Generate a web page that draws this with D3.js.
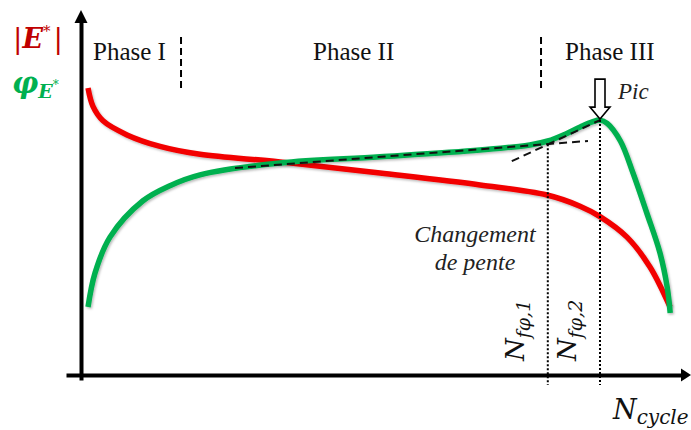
<!DOCTYPE html>
<html>
<head>
<meta charset="utf-8">
<script src="https://cdn.jsdelivr.net/npm/d3@7"></script>
<style>
  html, body { margin: 0; padding: 0; background: #fff; }
  svg { display: block; }
</style>
</head>
<body>
<script>
// ---------- DATA (normalised cycles 0-100, normalised value 0-100) ----------
const modulusCycles = [1.17, 2.0, 3.67, 7.67, 13.17, 19.83, 33.17, 49.83, 66.5, 77.67, 83.17, 86.5, 91.0, 94.83, 98.17];
const modulusValues = [79.7, 74.6, 70.6, 66.7, 63.5, 61.3, 59.2, 56.1, 52.8, 50.0, 46.9, 44.0, 38.3, 30.0, 18.9];

const phaseAngleCycles = [1.17, 2.33, 4.83, 10.33, 14.83, 19.83, 33.17, 49.83, 66.5, 74.8, 77.8, 80.7, 83.2, 85.2, 86.5, 87.7, 89.9, 92.0, 94.3, 96.5, 97.7, 98.2];
const phaseAngleValues = [18.9, 28.3, 38.3, 48.4, 52.6, 55.6, 58.9, 60.6, 62.5, 63.9, 65.0, 66.9, 68.9, 70.3, 70.8, 69.9, 65.0, 56.1, 45.0, 33.9, 24.4, 17.2];

const tangentPhaseII = [[25.67, 57.5], [84.5, 65.0]];
const tangentPhaseIII = [[71.8, 59.4], [86.5, 70.8]];

const phaseBoundaries = [16.67, 76.67];
const phaseLabels = ["Phase I", "Phase II", "Phase III"];
const criticalCycles = [77.8, 86.5];          // N_fφ,1 , N_fφ,2
const criticalValues = [64.1, 70.8];
const criticalSubscripts = ["fφ,1", "fφ,2"];

// ---------- LAYOUT ----------
const W = 691, H = 430;
const svg = d3.select("body").append("svg").attr("width", W).attr("height", H);
svg.append("rect").attr("width", W).attr("height", H).attr("fill", "#fff");

const x = d3.scaleLinear().domain([0, 100]).range([81, 681]);
const y = d3.scaleLinear().domain([0, 100]).range([375, 15]);

const RED = "#f20000", GREEN = "#00b050", DARKRED = "#c00000";
const serif = "'Liberation Serif', 'Times New Roman', serif";
const math = "'DejaVu Serif', serif";

const defs = svg.append("defs");
const f = defs.append("filter").attr("id", "shadow").attr("x", "-10%").attr("y", "-10%").attr("width", "120%").attr("height", "120%");
f.append("feDropShadow").attr("dx", 1.2).attr("dy", 1.5).attr("stdDeviation", 1).attr("flood-color", "#000").attr("flood-opacity", 0.28);

// ---------- AXES ----------
const xAxisScale = d3.scaleLinear().domain([x.invert(66), x.invert(684)]).range([66, 684]);
const yAxisScale = d3.scaleLinear().domain([y.invert(380), y.invert(20)]).range([380, 20]);

const gx = svg.append("g").attr("transform", `translate(0,${y(0)})`)
  .call(d3.axisBottom(xAxisScale).tickValues([]).tickSizeOuter(0));
gx.select(".domain").attr("stroke", "#000").attr("stroke-width", 4);

const gy = svg.append("g").attr("transform", `translate(${x(0)},0)`)
  .call(d3.axisLeft(yAxisScale).tickValues([]).tickSizeOuter(0));
gy.select(".domain").attr("stroke", "#000").attr("stroke-width", 4);

// arrow heads
svg.append("path")
  .attr("d", `M${xAxisScale.range()[1] - 3},${y(0) - 6.5} L${xAxisScale.range()[1] + 7},${y(0)} L${xAxisScale.range()[1] - 3},${y(0) + 6.5} Z`)
  .attr("fill", "#000");
svg.append("path")
  .attr("d", `M${x(0) - 6.5},${yAxisScale.range()[1] + 3} L${x(0)},${yAxisScale.range()[1] - 10} L${x(0) + 6.5},${yAxisScale.range()[1] + 3} Z`)
  .attr("fill", "#000");

// ---------- PHASE SEPARATORS ----------
svg.selectAll(".sep").data(phaseBoundaries).enter().append("line")
  .attr("x1", d => x(d)).attr("x2", d => x(d))
  .attr("y1", 37).attr("y2", 90)
  .attr("stroke", "#000").attr("stroke-width", 2).attr("stroke-dasharray", "7,4");

const phaseLabelX = [93, 313, 565];
svg.selectAll(".phase").data(phaseLabels).enter().append("text")
  .attr("x", (d, i) => phaseLabelX[i]).attr("y", 60)
  .attr("font-family", serif).attr("font-size", 25).attr("fill", "#111")
  .text(d => d);

// ---------- CURVES ----------
const line = d3.line().x(d => x(d[0])).y(d => y(d[1])).curve(d3.curveCatmullRom.alpha(0.5));
const modulusData = modulusCycles.map((c, i) => [c, modulusValues[i]]);
const phaseData = phaseAngleCycles.map((c, i) => [c, phaseAngleValues[i]]);

svg.append("path").datum(modulusData).attr("d", line)
  .attr("fill", "none").attr("stroke", RED).attr("stroke-width", 5.5).attr("filter", "url(#shadow)");
svg.append("path").datum(phaseData).attr("d", line)
  .attr("fill", "none").attr("stroke", GREEN).attr("stroke-width", 5.5).attr("filter", "url(#shadow)");

// tangent lines
const straight = d3.line().x(d => x(d[0])).y(d => y(d[1]));
[tangentPhaseII, tangentPhaseIII].forEach(t => {
  svg.append("path").datum(t).attr("d", straight)
    .attr("fill", "none").attr("stroke", "#111").attr("stroke-width", 2).attr("stroke-dasharray", "8,5");
});

// dotted vertical lines
svg.selectAll(".crit").data(criticalCycles).enter().append("line")
  .attr("x1", d => x(d)).attr("x2", d => x(d))
  .attr("y1", (d, i) => y(criticalValues[i])).attr("y2", y(0) + 10)
  .attr("stroke", "#000").attr("stroke-width", 2).attr("stroke-dasharray", "2,2");

// rotated N labels
criticalCycles.forEach((c, i) => {
  const t = svg.append("text")
    .attr("transform", `translate(${x(c) - 24},361) rotate(-90)`)
    .attr("font-family", math).attr("font-style", "italic").attr("fill", "#111");
  t.append("tspan").attr("font-size", 26).text("N");
  t.append("tspan").attr("font-size", 19).attr("dy", 6).text(criticalSubscripts[i]);
});

// hollow arrow pointing at the peak
const px = x(criticalCycles[1]), py = y(criticalValues[1]) - 1;
svg.append("path")
  .attr("d", `M${px - 5},${py - 40} L${px + 5},${py - 40} L${px + 5},${py - 12} L${px + 10},${py - 12} L${px},${py} L${px - 10},${py - 12} L${px - 5},${py - 12} Z`)
  .attr("fill", "#fff").attr("stroke", "#000").attr("stroke-width", 1.6).attr("stroke-linejoin", "miter");

svg.append("text").attr("x", 618).attr("y", 99)
  .attr("font-family", serif).attr("font-style", "italic").attr("font-size", 23).attr("fill", "#222")
  .text("Pic");

// "Changement de pente"
svg.append("text").attr("x", 475).attr("y", 242).attr("text-anchor", "middle")
  .attr("font-family", serif).attr("font-style", "italic").attr("font-size", 24).attr("fill", "#222")
  .text("Changement");
svg.append("text").attr("x", 475).attr("y", 270).attr("text-anchor", "middle")
  .attr("font-family", serif).attr("font-style", "italic").attr("font-size", 24).attr("fill", "#222")
  .text("de pente");

// N_cycle
const nc = svg.append("text").attr("x", 613).attr("y", 419)
  .attr("font-family", math).attr("font-style", "italic").attr("fill", "#111");
nc.append("tspan").attr("font-size", 27).text("N");
nc.append("tspan").attr("font-size", 20).attr("dy", 5).text("cycle");

// Y labels
const e = svg.append("text").attr("x", 13).attr("y", 48)
  .attr("font-family", math).attr("fill", DARKRED);
e.append("tspan").attr("font-size", 28).text("|");
e.append("tspan").attr("font-size", 27).attr("font-style", "italic").attr("font-weight", "bold").text("E");
e.append("tspan").attr("font-size", 15).attr("dy", -12).text("*");
e.append("tspan").attr("font-size", 28).attr("dy", 12).attr("dx", 3).text("|");

const p = svg.append("text").attr("x", 12).attr("y", 93)
  .attr("font-family", math).attr("fill", GREEN).attr("font-weight", "bold").attr("font-style", "italic");
p.append("tspan").attr("font-size", 29).text("φ");
p.append("tspan").attr("font-size", 19).attr("dy", 5).text("E");
p.append("tspan").attr("font-size", 12).attr("dy", -9).attr("font-style", "normal").attr("font-weight", "normal").text("*");
</script>
</body>
</html>
